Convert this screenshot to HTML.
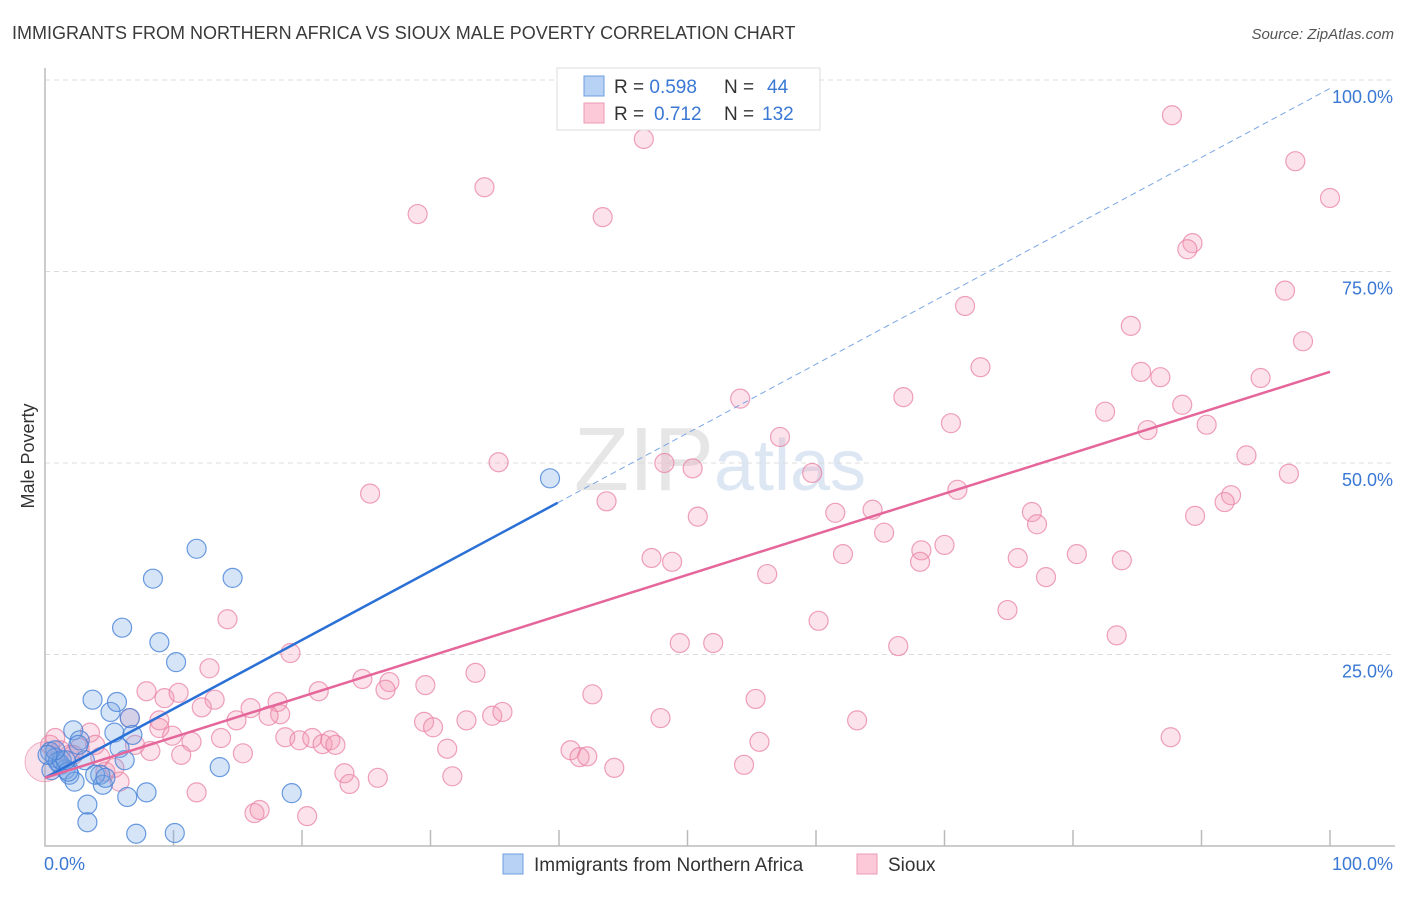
<!DOCTYPE html>
<html><head><meta charset="utf-8"><style>
body{margin:0;background:#fff;font-family:"Liberation Sans",sans-serif}
svg text{font-family:"Liberation Sans",sans-serif}
</style></head><body>
<svg id="chart" width="1406" height="892" xmlns="http://www.w3.org/2000/svg">
<text x="12" y="39" font-size="18" fill="#3a3a3a">IMMIGRANTS FROM NORTHERN AFRICA VS SIOUX MALE POVERTY CORRELATION CHART</text>
<text x="1394" y="39" font-size="15" fill="#555" text-anchor="end" font-style="italic">Source: ZipAtlas.com</text>
<text x="720" y="490" font-size="90" text-anchor="middle" fill="#e6e6e6" font-family="Liberation Serif">ZIP<tspan fill="#dde6f3" font-family="Liberation Sans" font-size="72">atlas</tspan></text>
<text transform="translate(34,456) rotate(-90)" font-size="18" fill="#333" text-anchor="middle">Male Poverty</text>
<g id="grid"></g><g id="axes"></g><g id="pinkpts"></g><g id="bluepts"></g><g id="lines"></g>
<g>
<rect x="557" y="68" width="263" height="62" fill="#fff" stroke="#ddd"/>
<rect x="584" y="76" width="20" height="20" fill="#b8d2f5" stroke="#6d9de0"/>
<rect x="584" y="103" width="20" height="20" fill="#fbc9d8" stroke="#ec9ab4"/>
<text x="614" y="93" font-size="19" fill="#333">R = <tspan fill="#3a78d4">0.598</tspan><tspan x="724">N = </tspan><tspan x="767" fill="#3a78d4">44</tspan></text>
<text x="614" y="120" font-size="19" fill="#333">R = <tspan x="654" fill="#3a78d4">0.712</tspan><tspan x="724">N = </tspan><tspan x="762" fill="#3a78d4">132</tspan></text>
</g>
<g>
<rect x="503" y="854" width="20" height="20" fill="#b8d2f5" stroke="#6d9de0"/>
<text x="534" y="871" font-size="19" fill="#333">Immigrants from Northern Africa</text>
<rect x="857" y="854" width="20" height="20" fill="#fbc9d8" stroke="#ec9ab4"/>
<text x="888" y="871" font-size="19" fill="#333">Sioux</text>
</g>
</svg>
<script>
const yTicks=[25,50,75,100];
const yTickLabels=["25.0%","50.0%","75.0%","100.0%"];
const xTickLabels=["0.0%","100.0%"];
const blueX=[0.4,0.8,1.2,1.6,1.9,2.3,0.5,1.0,1.3,1.8,2.2,2.7,3.1,3.7,4.3,4.5,5.1,5.4,5.6,5.8,6.0,6.2,6.4,6.6,6.8,3.3,3.3,7.1,7.9,8.4,8.9,10.1,10.2,11.8,13.6,14.6,19.2,39.3,3.9,4.7,1.6,0.8,0.2,2.6];
const blueY=[12.3,11.5,10.6,10.0,9.3,8.4,9.9,11.0,11.2,9.7,15.1,13.8,11.2,19.1,9.3,8.0,17.5,14.8,18.8,12.8,28.5,11.2,6.4,16.7,14.5,5.4,3.1,1.6,7.0,34.9,26.6,1.7,24.0,38.8,10.3,35.0,6.9,48.0,9.3,8.9,11.2,12.5,11.9,13.2];
const pinkX=[46.6,87.7,34.2,29.0,43.4,97.3,100,89.3,88.9,96.5,71.6,84.5,97.9,72.8,85.3,86.8,94.6,54.1,66.8,82.5,88.5,90.4,70.5,85.8,57.2,35.3,48.2,50.4,59.7,93.5,96.8,25.3,43.7,71.0,92.3,91.8,50.8,61.5,64.4,76.8,77.2,89.5,65.3,70.0,68.2,68.1,47.2,48.8,62.1,75.7,80.3,83.8,56.2,77.9,74.9,60.2,83.4,49.4,52.0,66.4,14.2,19.1,12.8,33.5,24.7,26.8,29.6,21.3,26.5,42.6,55.3,7.9,9.3,10.4,13.2,12.2,16.0,18.1,18.3,17.4,14.9,6.6,8.9,9.9,11.4,13.7,18.7,19.8,20.8,21.6,22.2,22.6,29.5,30.2,32.8,34.8,35.6,47.9,63.2,55.6,8.2,10.6,15.4,31.3,40.9,41.6,42.2,87.6,54.4,44.3,23.3,25.9,23.7,31.7,4.3,4.7,5.8,5.4,3.5,2.7,1.9,1.2,0.4,0.8,11.8,16.3,16.7,20.4,2.2,3.9,7.0,8.9];
const pinkY=[92.3,95.4,86.0,82.5,82.1,89.4,84.6,78.7,77.9,72.5,70.5,67.9,65.9,62.5,61.9,61.2,61.1,58.4,58.6,56.7,57.6,55.0,55.2,54.3,53.4,50.1,50.0,49.3,48.7,51.0,48.6,46.0,45.0,46.5,45.8,44.9,43.0,43.5,43.9,43.6,42.0,43.1,40.9,39.3,38.6,37.1,37.6,37.1,38.1,37.6,38.1,37.3,35.5,35.1,30.8,29.4,27.5,26.5,26.5,26.1,29.6,25.2,23.2,22.6,21.8,21.4,21.0,20.2,20.4,19.8,19.2,20.2,19.3,20.0,19.1,18.1,18.0,18.8,17.2,17.0,16.4,16.7,15.4,14.4,13.6,14.1,14.2,13.8,14.1,13.3,13.8,13.2,16.2,15.5,16.4,17.0,17.5,16.7,16.4,13.6,12.4,11.9,12.1,12.7,12.5,11.6,11.7,14.2,10.6,10.2,9.5,8.9,8.1,9.1,11.6,9.7,8.4,10.2,14.8,12.8,11.9,12.5,13.2,14.1,7.0,4.3,4.7,3.9,11.9,13.2,13.2,16.4];
const blueLine=[8.9,0.9]; // intercept, slope
const pinkLine=[8.9,0.53];
const X0=45,X1=1330,Y0=846,Y100=80;
const sx=v=>X0+(X1-X0)*v/100, sy=v=>Y0-(Y0-Y100)*v/100;
const NS="http://www.w3.org/2000/svg";
function mk(parent,tag,attrs){const e=document.createElementNS(NS,tag);for(const k in attrs)e.setAttribute(k,attrs[k]);document.getElementById(parent).appendChild(e);return e;}
yTicks.forEach((t,i)=>{
 const g=mk('grid','line',{x1:X0,x2:1395,y1:sy(t),y2:sy(t),stroke:'#dcdcdc','stroke-dasharray':'5,4'});
 
 
 const l=mk('grid','text',{x:1393,y:sy(t)+23,'font-size':18,fill:'#3a78d4','text-anchor':'end'});
 
 
 l.textContent=yTickLabels[i];
});
let a=mk('axes','path',{d:`M${X0} 68 V${Y0} H1395`,stroke:'#bbb',fill:'none','stroke-width':1.5});


for(let i=1;i<=10;i++){const t=mk('axes','line',{x1:sx(i*10),x2:sx(i*10),y1:Y0-16,y2:Y0,stroke:'#bbb','stroke-width':1.5});
 
 }
[[0,'start',44],[100,'end',1393]].forEach(([v,an,x],i)=>{const l=mk('axes','text',{x:x,y:870,'font-size':18,fill:'#3a78d4','text-anchor':an});
 
 
 l.textContent=xTickLabels[i];});
const big=mk('pinkpts','circle',{cx:sx(0),cy:sy(11),r:20,fill:'rgba(240,140,170,0.25)',stroke:'rgba(232,130,165,0.6)'});


pinkX.forEach((x,i)=>{const c=mk('pinkpts','circle',{cx:sx(x),cy:sy(pinkY[i]),r:9.5,fill:'rgba(245,150,180,0.28)',stroke:'rgba(232,130,165,0.75)','stroke-width':1.2});
 
 });
blueX.forEach((x,i)=>{const c=mk('bluepts','circle',{cx:sx(x),cy:sy(blueY[i]),r:9.5,fill:'rgba(120,165,230,0.3)',stroke:'rgba(70,130,215,0.8)','stroke-width':1.2});
 
 });
const bEnd=39.9;
let l1=mk('lines','line',{x1:sx(0),y1:sy(blueLine[0]),x2:sx(bEnd),y2:sy(blueLine[0]+blueLine[1]*bEnd),stroke:'#2a70d6','stroke-width':2.5});


let l2=mk('lines','line',{x1:sx(bEnd),y1:sy(blueLine[0]+blueLine[1]*bEnd),x2:sx(100),y2:sy(blueLine[0]+blueLine[1]*100),stroke:'#7aa6e6','stroke-width':1,'stroke-dasharray':'6,4'});


let l3=mk('lines','line',{x1:sx(0),y1:sy(pinkLine[0]),x2:sx(100),y2:sy(pinkLine[0]+pinkLine[1]*100),stroke:'#e4669a','stroke-width':2.5});


</script>
</body></html>
